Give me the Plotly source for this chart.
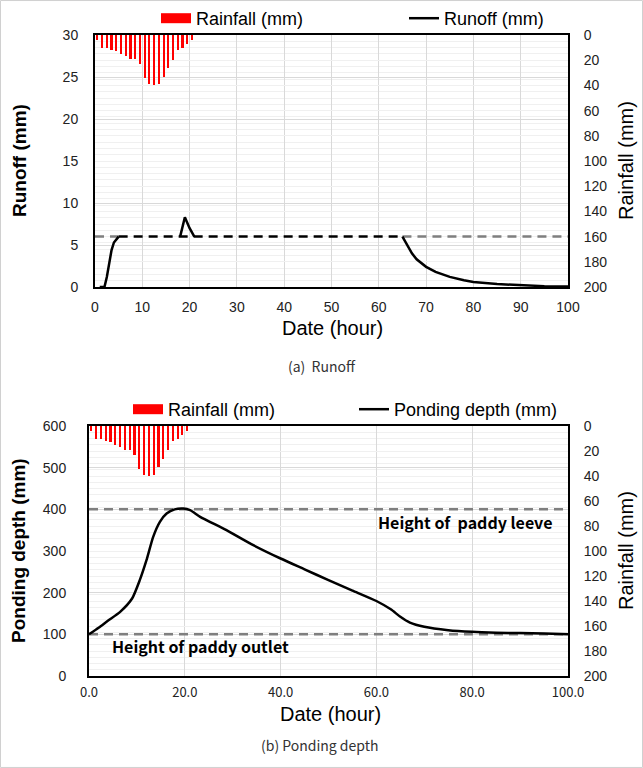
import plotly.graph_objects as go

# ---------------- data ----------------
rain_hours = [0.5, 1.5, 2.5, 3.5, 4.5, 5.5, 6.5, 7.5, 8.5, 9.5, 10.5,
              11.5, 12.5, 13.5, 14.5, 15.5, 16.5, 17.5, 18.5, 19.5, 20.5]
rainfall = [4, 10, 10, 12, 12.5, 15, 17, 19, 19, 23, 34,
            39, 40, 39, 33, 26, 19.5, 12, 10, 7, 4]

runoff_hours = [1, 2, 2.5, 3, 3.5, 4, 5, 18, 19, 20, 21, 65, 66, 67, 68,
                70, 72, 75, 78, 80, 85, 90, 95, 100]
runoff = [0, 0, 1.2, 3.0, 4.4, 5.3, 6, 6, 8.3, 7, 6, 6, 5, 4, 3.3,
          2.4, 1.8, 1.2, 0.8, 0.6, 0.35, 0.2, 0.1, 0.05]
runoff_limit = 6

pond_hours = [0, 2, 4, 6.5, 9, 10.6, 12, 13.4, 14.8, 16.2, 17.9, 19.7, 21.1,
              23.2, 28.7, 34.3, 40, 45, 50, 55, 60, 63, 65, 67, 70, 75, 80,
              85, 90, 95, 100]
ponding = [100, 116, 133, 154, 186, 230, 278, 334, 370, 390, 400, 402, 398,
           382, 350, 314, 282, 256, 230, 205, 180, 160, 142, 128, 118, 110,
           106, 104, 103, 102, 100]
levee_height = 400
outlet_height = 100

x_ticks_top = [0, 10, 20, 30, 40, 50, 60, 70, 80, 90, 100]
x_ticks_bot = [0, 20, 40, 60, 80, 100]

# ---------------- layout helpers ----------------
W, H = 643, 768


def px(x):
    return x / W


def py(y):
    return 1 - y / H


RED = "#ff0000"
GRAY = "#7f7f7f"
GRID = "#d9d9d9"
MINOR = "#f0f0f0"
TICKFONT = dict(family="Liberation Sans, Arial", size=14, color="#222")

fig = go.Figure()

# ---------------- top: runoff ----------------
fig.add_trace(go.Bar(x=rain_hours, y=rainfall, xaxis="x", yaxis="y2",
                     marker=dict(color=RED, line=dict(width=0)), width=0.45,
                     name="Rainfall (mm)", legendgroup="rain1", showlegend=False))
# legend entry for the rainfall bars (wide red swatch)
fig.add_trace(go.Scatter(x=[None], y=[None], mode="lines", xaxis="x", yaxis="y2",
                         line=dict(color=RED, width=12), name="Rainfall (mm)",
                         legendgroup="rain1", legend="legend", hoverinfo="skip"))

plateau_start = None
plateau_end = None
for i in range(len(runoff) - 1):
    if runoff[i] == runoff_limit and runoff[i + 1] == runoff_limit:
        if plateau_start is None:
            plateau_start = runoff_hours[i]
        plateau_end = runoff_hours[i + 1]

fig.add_trace(go.Scatter(x=[0, plateau_start, None, plateau_end, 100],
                         y=[runoff_limit, runoff_limit, None, runoff_limit, runoff_limit],
                         mode="lines", line=dict(color=GRAY, width=2.5, dash="9px,6px"),
                         xaxis="x", yaxis="y", showlegend=False, hoverinfo="skip"))
sx, sy = [], []
for i in range(len(runoff)):
    if i > 0 and runoff[i] == runoff_limit and runoff[i - 1] == runoff_limit:
        sx.append(None)
        sy.append(None)
    sx.append(runoff_hours[i])
    sy.append(runoff[i])
fig.add_trace(go.Scatter(x=[plateau_start, plateau_end], y=[runoff_limit, runoff_limit],
                         mode="lines", line=dict(color="black", width=2.5, dash="9px,6px"),
                         xaxis="x", yaxis="y", showlegend=False, hoverinfo="skip"))
fig.add_trace(go.Scatter(x=sx, y=sy, mode="lines", connectgaps=False,
                         line=dict(color="black", width=2.5),
                         xaxis="x", yaxis="y", name="Runoff (mm)", legend="legend"))

# ---------------- bottom: ponding ----------------
fig.add_trace(go.Bar(x=rain_hours, y=rainfall, xaxis="x2", yaxis="y4",
                     marker=dict(color=RED, line=dict(width=0)), width=0.45,
                     name="Rainfall (mm)", legendgroup="rain2", showlegend=False))
fig.add_trace(go.Scatter(x=[None], y=[None], mode="lines", xaxis="x2", yaxis="y4",
                         line=dict(color=RED, width=12), name="Rainfall (mm)",
                         legendgroup="rain2", legend="legend2", hoverinfo="skip"))
fig.add_trace(go.Scatter(x=[0, 100], y=[levee_height, levee_height], mode="lines",
                         line=dict(color=GRAY, width=2.5, dash="9px,6px"),
                         xaxis="x2", yaxis="y3", showlegend=False, hoverinfo="skip"))
fig.add_trace(go.Scatter(x=[0, 100], y=[outlet_height, outlet_height], mode="lines",
                         line=dict(color=GRAY, width=2.5, dash="9px,6px"),
                         xaxis="x2", yaxis="y3", showlegend=False, hoverinfo="skip"))
fig.add_trace(go.Scatter(x=pond_hours, y=ponding, mode="lines",
                         line=dict(color="black", width=2.5, shape="spline", smoothing=0.6),
                         xaxis="x2", yaxis="y3", name="Ponding depth (mm)", legend="legend2"))

top_dom = [py(287), py(35)]
bot_dom = [py(676), py(426)]

axis_common = dict(showline=True, linecolor="black", linewidth=2, mirror=True,
                   zeroline=False, tickfont=TICKFONT, automargin=False)
legend_font = dict(family="Liberation Sans, Arial", size=18, color="black")

fig.update_layout(
    width=W, height=H, autosize=False,
    margin=dict(l=0, r=0, t=0, b=0, pad=0, autoexpand=False),
    paper_bgcolor="white", plot_bgcolor="white", bargap=0,
    xaxis=dict(domain=[px(95), px(568)], range=[0, 100], tickvals=x_ticks_top,
               showgrid=True, gridcolor=GRID, gridwidth=1, anchor="y",
               ticks="outside", ticklen=6, tickcolor="rgba(0,0,0,0)", **axis_common),
    yaxis=dict(domain=top_dom, range=[0, 30], dtick=5, anchor="x",
               showgrid=True, gridcolor=GRID,
               ticks="outside", ticklen=12, tickcolor="rgba(0,0,0,0)", **axis_common),
    yaxis2=dict(domain=top_dom, range=[200, 0], dtick=20, overlaying="y", side="right",
                anchor="x", showgrid=True, gridcolor=MINOR,
                minor=dict(dtick=5, showgrid=True, gridcolor=MINOR),
                ticks="outside", ticklen=12, tickcolor="rgba(0,0,0,0)", automargin=False,
                showline=False, zeroline=False, tickfont=TICKFONT),
    xaxis2=dict(domain=[px(89), px(568)], range=[0, 100], tickvals=x_ticks_bot,
                tickformat=".1f", showgrid=True, gridcolor=GRID, anchor="y3",
                ticks="outside", ticklen=3, tickcolor="rgba(0,0,0,0)", automargin=False,
                showline=True, linecolor="black", linewidth=2, mirror=True, zeroline=False,
                tickfont=dict(family="Noto Sans CJK KR", size=13, color="#222")),
    yaxis3=dict(domain=bot_dom, range=[0, 600], dtick=100, anchor="x2",
                showgrid=True, gridcolor=GRID,
                ticks="outside", ticklen=18, tickcolor="rgba(0,0,0,0)", **axis_common),
    yaxis4=dict(domain=bot_dom, range=[200, 0], dtick=20, overlaying="y3", side="right",
                anchor="x2", showgrid=True, gridcolor=MINOR,
                minor=dict(dtick=5, showgrid=True, gridcolor=MINOR),
                ticks="outside", ticklen=12, tickcolor="rgba(0,0,0,0)", automargin=False,
                showline=False, zeroline=False, tickfont=TICKFONT),
    legend=dict(orientation="h", x=px(156), y=py(0), xanchor="left", yanchor="top",
                entrywidth=203, entrywidthmode="pixels", bgcolor="rgba(0,0,0,0)",
                font=legend_font, itemwidth=30, tracegroupgap=0),
    legend2=dict(orientation="h", x=px(128), y=py(391), xanchor="left", yanchor="top",
                 entrywidth=181, entrywidthmode="pixels", bgcolor="rgba(0,0,0,0)",
                 font=legend_font, itemwidth=30, tracegroupgap=0),
    showlegend=True,
)

ann = []
title_font_b = dict(family="Liberation Sans, Arial", size=19, color="black")
ann.append(dict(text="<b>Runoff (mm)</b>", x=px(20), y=py(161), textangle=-90,
                font=title_font_b))
ann.append(dict(text="Rainfall (mm)", x=px(626), y=py(161), textangle=-90,
                font=dict(family="Liberation Sans, Arial", size=20, color="black")))
ann.append(dict(text="Date (hour)", x=px(332), y=py(328),
                font=dict(family="Liberation Sans, Arial", size=20, color="black")))
ann.append(dict(text="(a)  Runoff", x=px(322), y=py(366),
                font=dict(family="Noto Sans CJK KR", size=14, color="#333")))
ann.append(dict(text="<b>Ponding depth (mm)</b>", x=px(18), y=py(551), textangle=-90,
                font=title_font_b))
ann.append(dict(text="Rainfall (mm)", x=px(626), y=py(551), textangle=-90,
                font=dict(family="Liberation Sans, Arial", size=20, color="black")))
ann.append(dict(text="Date (hour)", x=px(330), y=py(714),
                font=dict(family="Liberation Sans, Arial", size=20, color="black")))
ann.append(dict(text="(b) Ponding depth", x=px(320), y=py(745),
                font=dict(family="Noto Sans CJK KR", size=14, color="#333")))
ann.append(dict(text="<b>Height of  paddy leeve</b>", x=px(555), y=py(522), xanchor="right",
                font=dict(family="Noto Sans CJK KR", size=16, color="black")))
ann.append(dict(text="<b>Height of paddy outlet</b>", x=px(110), y=py(646), xanchor="left",
                font=dict(family="Noto Sans CJK KR", size=16, color="black")))
for a in ann:
    a.update(xref="paper", yref="paper", showarrow=False)
    a.setdefault("xanchor", "center")
    a.setdefault("yanchor", "middle")
fig.update_layout(annotations=ann)

fig.add_shape(type="rect", xref="paper", yref="paper", x0=0.0008, y0=0.0007, x1=0.9992, y1=0.9993,
              line=dict(color="#d0d0d0", width=1), layer="below")

fig.write_html("out.html")
